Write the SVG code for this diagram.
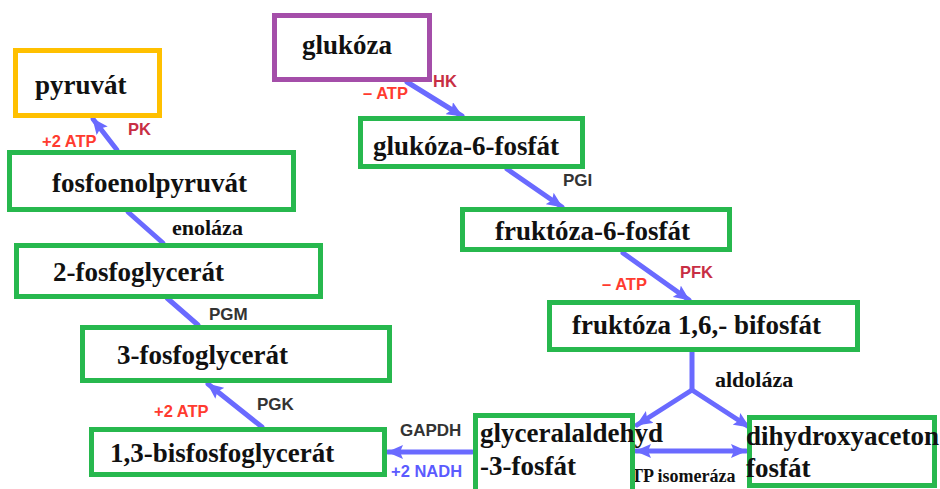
<svg xmlns="http://www.w3.org/2000/svg" width="940" height="489" viewBox="0 0 940 489">
  <defs>
    <marker id="head" markerUnits="userSpaceOnUse" markerWidth="16" markerHeight="14" refX="15" refY="7" orient="auto-start-reverse">
      <path d="M0,0 L16,7 L0,14 L3,7 z" fill="#6A6AFF"/>
    </marker>
    <style>
      .box { fill: #fff; stroke-width: 5; }
      .green { stroke: #27B84E; }
      .orange { stroke: #FFC000; }
      .purple { stroke: #A44EA9; }
      .name { font-family: "Liberation Serif", "Times New Roman", serif; font-weight: bold; font-size: 27px; fill: #111; }
      .enz { font-family: "Liberation Serif", "Times New Roman", serif; font-weight: bold; font-size: 22px; fill: #111; }
      .small { font-size: 18px; }
      .lab { font-family: "Liberation Sans", Arial, sans-serif; font-weight: bold; font-size: 16.5px; }
      .gain { fill: #FF3B2F; }
      .kin { fill: #C82E44; }
      .dark { fill: #333; font-size: 17px; }
      .blue { fill: #5B5BFF; }
      .flow { fill: none; stroke: #6A6AFF; stroke-width: 5; stroke-linecap: round; }
      .arr { marker-end: url(#head); }
      .both { marker-start: url(#head); marker-end: url(#head); }
    </style>
  </defs>
  <rect width="940" height="489" fill="#fff"/>

  <!-- reaction arrows and their enzyme / energy labels -->
  <g id="connectors">
    <line class="flow arr" x1="407" y1="82" x2="462" y2="116"/>
    <line class="flow arr" x1="507" y1="169" x2="562" y2="207"/>
    <line class="flow arr" x1="623" y1="253" x2="689" y2="300"/>
    <polyline class="flow" points="692,352 692,390"/>
    <line class="flow arr" x1="692" y1="390" x2="637" y2="425"/>
    <line class="flow arr" x1="692" y1="390" x2="749" y2="427"/>
    <line class="flow both" x1="636" y1="451" x2="746" y2="451"/>
    <line class="flow arr" x1="472" y1="452" x2="388" y2="452"/>
    <line class="flow arr" x1="262" y1="427" x2="208" y2="384"/>
    <line class="flow" x1="198" y1="325" x2="167" y2="298"/>
    <line class="flow" x1="163" y1="243" x2="128" y2="212"/>
    <line class="flow arr" x1="117" y1="150" x2="93" y2="119"/>

    <text class="lab gain" x="363" y="99">– ATP</text>
    <text class="lab kin" x="433" y="87">HK</text>
    <text class="lab dark" x="563" y="186">PGI</text>
    <text class="lab gain" x="602" y="290">– ATP</text>
    <text class="lab kin" x="680" y="278">PFK</text>
    <text class="enz" x="715" y="387">aldoláza</text>
    <text class="enz small" x="631" y="482">TP isomeráza</text>
    <text class="lab dark" x="400" y="436">GAPDH</text>
    <text class="lab blue" x="391" y="477">+2 NADH</text>
    <text class="lab gain" x="154" y="417">+2 ATP</text>
    <text class="lab dark" x="257" y="410">PGK</text>
    <text class="lab dark" x="209" y="320">PGM</text>
    <text class="enz" x="172" y="235">enoláza</text>
    <text class="lab gain" x="42" y="147">+2 ATP</text>
    <text class="lab kin" x="128" y="135">PK</text>
  </g>

  <g id="glukoza">
    <rect class="box purple" x="274.5" y="15.5" width="155" height="64"/>
    <text class="name" x="302" y="54">glukóza</text>
  </g>
  <g id="glukoza-6-fosfat">
    <rect class="box green" x="360.5" y="118.5" width="222" height="48"/>
    <text class="name" x="373" y="155">glukóza-6-fosfát</text>
  </g>
  <g id="fruktoza-6-fosfat">
    <rect class="box green" x="462.5" y="209.5" width="267" height="40"/>
    <text class="name" x="495" y="240">fruktóza-6-fosfát</text>
  </g>
  <g id="fruktoza-bifosfat">
    <rect class="box green" x="549.5" y="302.5" width="308" height="47"/>
    <text class="name" x="572" y="334">fruktóza 1,6,- bifosfát</text>
  </g>
  <g id="glyceralaldehyd-3-fosfat">
    <rect class="box green" x="475.5" y="415.5" width="157" height="80"/>
    <text class="name" x="480" y="442">glyceralaldehyd</text>
    <text class="name" x="480" y="475">-3-fosfát</text>
  </g>
  <g id="dihydroxyaceton-fosfat">
    <rect class="box green" x="749.5" y="417.5" width="185" height="68"/>
    <text class="name" x="746" y="445">dihydroxyaceton</text>
    <text class="name" x="746" y="477">fosfát</text>
  </g>
  <g id="bisfosfoglycerat">
    <rect class="box green" x="91.5" y="429.5" width="293" height="45"/>
    <text class="name" x="110" y="462">1,3-bisfosfoglycerát</text>
  </g>
  <g id="fosfoglycerat-3">
    <rect class="box green" x="82.5" y="327.5" width="307" height="53"/>
    <text class="name" x="117" y="364">3-fosfoglycerát</text>
  </g>
  <g id="fosfoglycerat-2">
    <rect class="box green" x="16.5" y="245.5" width="304" height="51"/>
    <text class="name" x="53" y="281">2-fosfoglycerát</text>
  </g>
  <g id="fosfoenolpyruvat">
    <rect class="box green" x="9.5" y="152.5" width="284" height="57"/>
    <text class="name" x="52" y="192">fosfoenolpyruvát</text>
  </g>
  <g id="pyruvat">
    <rect class="box orange" x="15.5" y="50.5" width="144" height="65"/>
    <text class="name" x="35" y="94">pyruvát</text>
  </g>
</svg>
